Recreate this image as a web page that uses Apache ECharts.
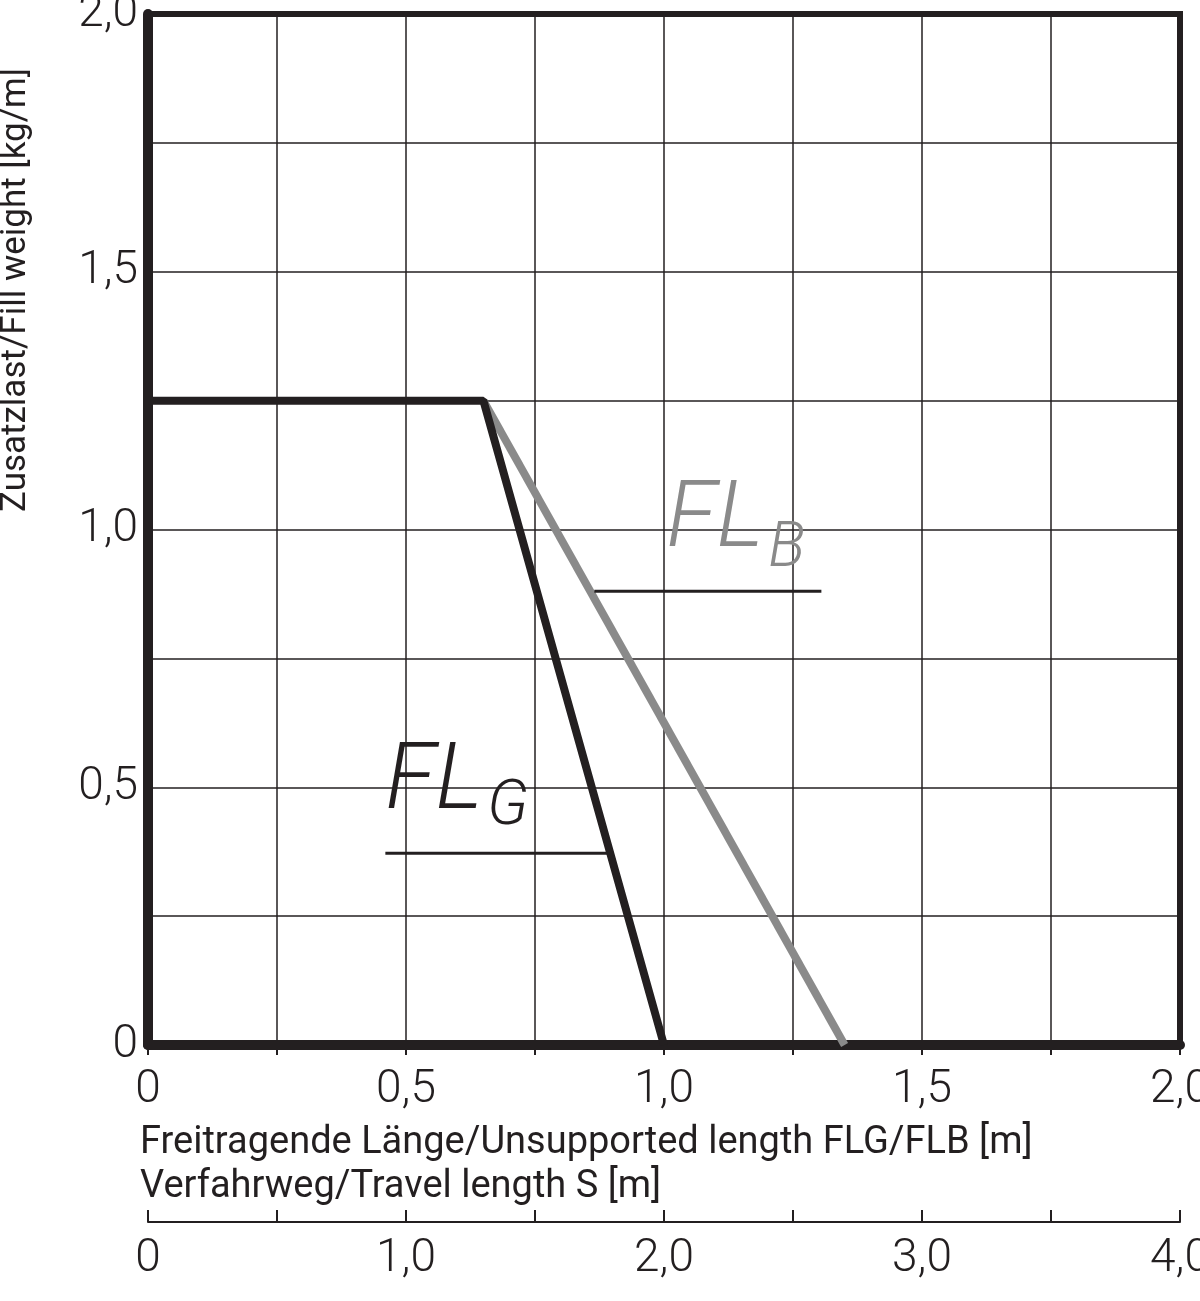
<!doctype html>
<html lang="de">
<head>
<meta charset="UTF-8">
<title>FLG/FLB</title>
</head>
<body style="margin:0;background:#fff">
<div id="myChart" style="width:1200px;height:1301px"></div>
<script src="https://cdn.jsdelivr.net/npm/echarts@6/dist/echarts.min.js"></script>
<script>
var flG = [[0, 1.25], [0.65, 1.25], [1.0, 0]];
var flB = [[0.65, 1.25], [1.35, 0]];
var travelTicks = [0, 1, 2, 3, 4];
var ink = '#231f20';

function fmt(v) {
    if (Math.abs(v * 2 - Math.round(v * 2)) > 1e-6) return '';
    return v === 0 ? '0' : v.toFixed(1).replace('.', ',');
}
var labelFont = {fontFamily: 'Roboto', fontWeight: 300, fontSize: 46, color: ink};

var myChart = echarts.init(document.getElementById('myChart'));
var option = {
    animation: false,
    grid: [
        {left: 148, right: 20, top: 14, bottom: 256, show: true, borderColor: ink, borderWidth: 6, z: 3, outerBoundsMode: 'none', containLabel: false},
        {left: 148, right: 20, top: 1222, height: 0, outerBoundsMode: 'none', containLabel: false}
    ],
    xAxis: [
        {
            gridIndex: 0, type: 'value', min: 0, max: 2, interval: 0.25,
            axisLine: {lineStyle: {color: ink, width: 10}},
            axisTick: {show: true, length: 10, lineStyle: {color: ink, width: 2}},
            splitLine: {lineStyle: {color: ink, width: 1.5}},
            axisLabel: Object.assign({margin: 22, formatter: fmt, showMaxLabel: true}, labelFont)
        },
        {
            gridIndex: 1, type: 'value', min: 0, max: 4, interval: 0.5,
            axisLine: {lineStyle: {color: ink, width: 2}},
            axisTick: {show: true, inside: true, length: 12, lineStyle: {color: ink, width: 2}},
            splitLine: {show: false},
            axisLabel: Object.assign({margin: 14, formatter: function (v) {
                return travelTicks.indexOf(v) >= 0 ? (v === 0 ? '0' : v.toFixed(1).replace('.', ',')) : '';
            }}, labelFont)
        }
    ],
    yAxis: [
        {
            gridIndex: 0, type: 'value', min: 0, max: 2, interval: 0.25,
            axisLine: {show: true, lineStyle: {color: ink, width: 10}},
            axisTick: {show: false},
            splitLine: {lineStyle: {color: ink, width: 1.5}},
            axisLabel: Object.assign({margin: 10, formatter: fmt}, labelFont)
        },
        {gridIndex: 1, type: 'value', show: false}
    ],
    series: [
        {
            type: 'line', xAxisIndex: 0, yAxisIndex: 0, data: flB, symbol: 'none', z: 4,
            lineStyle: {color: '#8a8a8a', width: 8}
        },
        {
            type: 'line', xAxisIndex: 0, yAxisIndex: 0, data: flG, symbol: 'none', z: 5,
            lineStyle: {color: ink, width: 8}
        }
    ]
};
myChart.setOption(option);

function px(p) { return myChart.convertToPixel({gridIndex: 0}, p); }
var g1 = px([0.46, 0.372]), g2 = px([0.89, 0.372]);
var b1 = px([0.865, 0.88]), b2 = px([1.305, 0.88]);
var titleFont = 'normal 400 38px Roboto';
myChart.setOption({
    graphic: [
        {type: 'line', shape: {x1: g1[0], y1: g1[1], x2: g2[0], y2: g2[1]}, style: {stroke: ink, lineWidth: 3}, z: 10},
        {type: 'line', shape: {x1: b1[0], y1: b1[1], x2: b2[0], y2: b2[1]}, style: {stroke: ink, lineWidth: 3}, z: 10},
        {type: 'text', x: g1[0], y: g1[1] - 22, z: 10, style: {text: 'FL', font: 'italic 300 92px Roboto', fill: ink, textVerticalAlign: 'bottom'}},
        {type: 'text', x: g1[0] + 102, y: g1[1] - 14, z: 10, style: {text: 'G', font: 'italic 300 62px Roboto', fill: ink, textVerticalAlign: 'bottom'}},
        {type: 'text', x: b1[0] + 72, y: b1[1] - 22, z: 10, style: {text: 'FL', font: 'italic 300 92px Roboto', fill: '#8a8a8a', textVerticalAlign: 'bottom'}},
        {type: 'text', x: b1[0] + 174, y: b1[1] - 10, z: 10, style: {text: 'B', font: 'italic 300 62px Roboto', fill: '#8a8a8a', textVerticalAlign: 'bottom'}},
        {type: 'text', x: 16, y: 512, rotation: Math.PI / 2, style: {text: 'Zusatzlast/Fill weight [kg/m]', font: 'normal 400 35px Roboto', fill: ink, textVerticalAlign: 'middle'}},
        {type: 'text', x: 140, y: 1143, style: {text: 'Freitragende Länge/Unsupported length FLG/FLB [m]', font: titleFont, fill: ink, textVerticalAlign: 'middle'}},
        {type: 'text', x: 140, y: 1187, style: {text: 'Verfahrweg/Travel length S [m]', font: titleFont, fill: ink, textVerticalAlign: 'middle'}}
    ]
});
</script>
</body>
</html>
